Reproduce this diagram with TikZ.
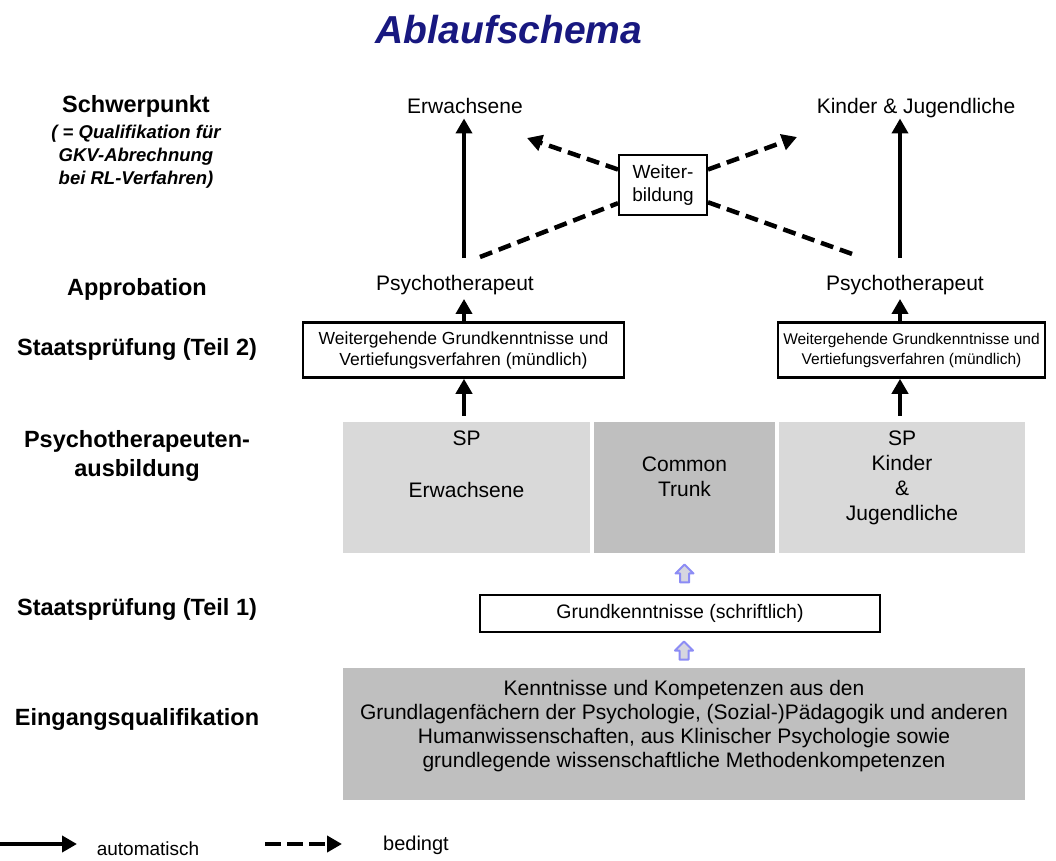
\documentclass[tikz,border=0pt]{standalone}
\usepackage{fontspec}
\setmainfont{Liberation Sans}
\usetikzlibrary{arrows.meta,calc}

\definecolor{titelblau}{RGB}{24,24,128}
\definecolor{hellgrau}{RGB}{217,217,217}
\definecolor{dunkelgrau}{RGB}{191,191,191}
\definecolor{pfeillila}{RGB}{140,140,245}
\definecolor{pfeilfuell}{RGB}{214,214,224}

\tikzset{
  fest/.style={line width=4.5pt,-{Triangle[length=15pt,width=16pt]}},
  bedingt/.style={line width=4.5pt,dash pattern=on 13pt off 7pt,-{Triangle[length=15pt,width=16pt]}},
  bedingtlinie/.style={line width=4.5pt,dash pattern=on 13pt off 7pt},
  titel/.style={text=titelblau,font=\fontsize{39}{44}\selectfont\bfseries\itshape},
  links/.style={align=center,inner sep=0pt,font=\fontsize{23.5}{29}\selectfont\bfseries},
  linksklein/.style={align=center,inner sep=0pt,font=\fontsize{18.5}{23}\selectfont\bfseries\itshape},
  etikett/.style={inner sep=0pt,text height=15pt,text depth=4.5pt,font=\fontsize{21}{25}\selectfont},
  kasten/.style={draw,line width=2.5pt,fill=white,align=center,inner sep=2pt,font=\fontsize{17.5}{21}\selectfont},
  zelle/.style={inner sep=0pt,minimum height=131pt},
  zelltext/.style={align=center,inner sep=0pt,font=\fontsize{21}{25}\selectfont},
  hohlpfeil/.style={draw=pfeillila,fill=pfeilfuell,line width=2pt,line join=round}
}

% petite fleche creuse (vers le haut)
\newcommand{\hohlpfeil}[1]{\filldraw[hohlpfeil,shift={(#1)}] (0,-9) -- (9,0) -- (4.5,0) -- (4.5,9) -- (-4.5,9) -- (-4.5,0) -- (-9,0) -- cycle;}

\begin{document}
\begin{tikzpicture}[x=1pt,y=-1pt]
    \useasboundingbox (0,0) rectangle (1056,860);

    % Titre
    \node[titel] (titel) at (509,30) {Ablaufschema};

    % Colonne de gauche
    \node[links] (lSchwer) at (136,106) {Schwerpunkt};
    \node[linksklein] (lQuali) at (136,157) {( = Qualifikation für\\GKV-Abrechnung\\bei RL-Verfahren)};
    \node[links] (lApprob) at (137,289) {Approbation};
    \node[links] (lStaat2) at (137,349) {Staatsprüfung (Teil 2)};
    \node[links] (lAusb) at (137,456) {Psychotherapeuten-\\ausbildung};
    \node[links] (lStaat1) at (137,609) {Staatsprüfung (Teil 1)};
    \node[links] (lEingang) at (137,719) {Eingangsqualifikation};

    % Axes des fleches
    \coordinate (colL) at (464,0);
    \coordinate (colR) at (900,0);

    % Schwerpunkt et Approbation
    \node[etikett] (erw) at (465,108.5) {Erwachsene};
    \node[etikett] (kij) at (916,108.5) {Kinder \& Jugendliche};
    \node[etikett] (psyL) at (455,285) {Psychotherapeut};
    \node[etikett] (psyR) at (905,285) {Psychotherapeut};

    % Weiterbildung
    \node[kasten,line width=2pt,minimum width=88pt,minimum height=60pt,font=\fontsize{19}{23}\selectfont] (wb) at (663,185) {Weiter-\\bildung};
    \coordinate (zielE) at (527,138);
    \coordinate (zielK) at (797,137);
    \coordinate (abzwL) at (480,257);
    \coordinate (abzwR) at (855,255);

    % Staatspruefung (Teil 2)
    \node[kasten,minimum width=321pt,minimum height=55pt] (pruefL) at (463.5,350) {Weitergehende Grundkenntnisse und\\Vertiefungsverfahren (mündlich)};
    \node[kasten,minimum width=267pt,minimum height=55pt,inner sep=1pt,font=\fontsize{15.5}{20}\selectfont] (pruefR) at (911.5,350) {Weitergehende Grundkenntnisse und\\Vertiefungsverfahren (mündlich)};

    % Ausbildung : trois cases grises
    \node[zelle,fill=hellgrau,minimum width=247pt] (zelleL) at (466.5,487.5) {};
    \node[zelle,fill=dunkelgrau,minimum width=181pt] (zelleM) at (684.5,487.5) {};
    \node[zelle,fill=hellgrau,minimum width=246pt] (zelleR) at (902,487.5) {};
    \node[zelltext,anchor=north] (txtL) at ([yshift=-9pt]zelleL.north) {SP\\[27pt]Erwachsene};
    \node[zelltext,anchor=north] (txtM) at ([yshift=-35pt]zelleM.north) {Common\\Trunk};
    \node[zelltext,anchor=north] (txtR) at ([yshift=-9pt]zelleR.north) {SP\\Kinder\\\&\\Jugendliche};

    % Staatspruefung (Teil 1)
    \node[kasten,minimum width=400pt,minimum height=37pt,font=\fontsize{19.5}{22}\selectfont] (grund) at (680,613.5) {Grundkenntnisse (schriftlich)};

    % Eingangsqualifikation
    \node[zelle,fill=dunkelgrau,minimum width=682pt,minimum height=132pt] (eingang) at (684,734) {};
    \node[zelltext,font=\fontsize{21}{24}\selectfont] (eingangText) at ([yshift=8pt]eingang.center) {Kenntnisse und Kompetenzen aus den\\Grundlagenfächern der Psychologie, (Sozial-)Pädagogik und anderen\\Humanwissenschaften, aus Klinischer Psychologie sowie\\grundlegende wissenschaftliche Methodenkompetenzen};

    % Fleches automatiques
    \draw[fest,shorten <=17pt] (psyL.north -| colL) -- (erw.south -| colL);
    \draw[fest,shorten <=17pt] (psyR.north -| colR) -- (kij.south -| colR);
    \draw[fest,shorten >=4pt] (pruefL.north -| colL) -- (psyL.south -| colL);
    \draw[fest,shorten >=4pt] (pruefR.north -| colR) -- (psyR.south -| colR);
    \draw[fest,shorten <=6pt] (zelleL.north -| colL) -- (pruefL.south -| colL);
    \draw[fest,shorten <=6pt] (zelleR.north -| colR) -- (pruefR.south -| colR);

    % Fleches conditionnelles
    \draw[bedingt] (wb.161) -- (zielE);
    \draw[bedingt] (wb.19) -- (zielK);
    \draw[bedingtlinie] (abzwL) -- (wb.202);
    \draw[bedingtlinie] (wb.339) -- (abzwR);

    % Fleches creuses
    \coordinate (pfOben) at ($(grund.north -| zelleM.south)!0.5!(zelleM.south)$);
    \coordinate (pfUnten) at ($(eingang.north)!0.5!(grund.south -| eingang.north)$);
    \hohlpfeil{pfOben}
    \hohlpfeil{pfUnten}

    % Legende
    \coordinate (legFestA) at (0,844);
    \coordinate (legFestB) at (77,844);
    \coordinate (legBedA) at (265,844);
    \coordinate (legBedB) at (342,844);
    \draw[fest] (legFestA) -- (legFestB);
    \node[etikett,font=\fontsize{19}{22}\selectfont] (legFestTxt) at (148,850) {automatisch};
    \draw[bedingt,dash pattern=on 16pt off 6pt] (legBedA) -- (legBedB);
    \node[etikett,font=\fontsize{20}{22}\selectfont] (legBedTxt) at (416,845) {bedingt};
\end{tikzpicture}
\end{document}
